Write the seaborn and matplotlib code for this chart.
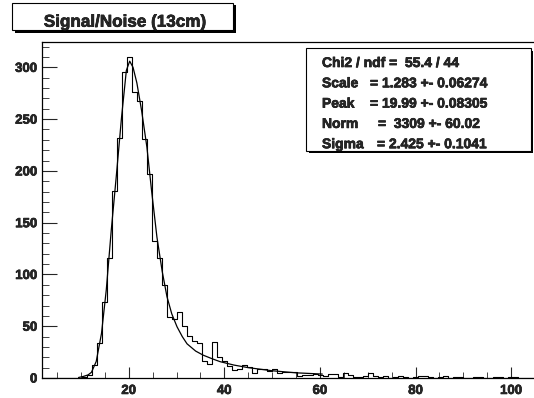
import numpy as np
import pandas as pd
import seaborn as sns
import matplotlib.pyplot as plt
import matplotlib.patheffects as pe
from matplotlib.patches import Rectangle
from matplotlib.ticker import MultipleLocator

# histogram definition (100 bins) and contents
n_bins = 100
x_lo, x_hi = 1.75, 106.75
counts = [0, 0, 0, 0, 0, 0, 0, 0, 1, 3,
          13, 34, 73, 116, 181, 232, 296, 310, 276, 268,
          231, 197, 132, 116, 90, 59, 57, 64, 50, 41,
          36, 34, 16, 14, 35, 20, 16, 12, 8, 9,
          13, 11, 5, 9, 9, 7, 9, 5, 6, 6,
          6, 2, 3, 3, 4, 3, 2, 4, 4, 1,
          5, 3, 1, 1, 2, 5, 2, 1, 2, 0,
          1, 2, 1, 0, 1, 2, 2, 1, 0, 1,
          2, 0, 1, 1, 0, 0, 1, 1, 0, 0,
          1, 1, 0, 1, 1, 0, 0, 0, 0, 0]

# fitted curve (langaus)
fit_x = [9.5, 10.5, 11.5, 12.2, 13.2, 14.3, 15.3, 16.35, 17.4, 18.5, 19.5, 20.2,
         20.9, 21.7, 22.7, 23.8, 24.8, 25.9, 27.0, 28.0, 29.0, 30.1, 31.2, 32.2,
         34.0, 35.6, 37.5, 39.1, 42.0, 45.0, 50.0, 55.0, 60.5]
fit_y = [0.5, 1.5, 3.0, 5.5, 16, 43, 85, 143, 195, 252, 297, 306,
         300, 285, 258, 223, 180, 136, 103, 78.5, 62, 49.5, 40, 33,
         26, 22, 18.5, 15.8, 12.5, 10, 7, 5, 3.8]

title = "Signal/Noise (13cm)"
stat_names = ["Scale", "Peak", "Norm", "Sigma"]
stat_vals = ["= 1.283 +- 0.06274", "= 19.99 +- 0.08305", "=  3309 +- 60.02", "= 2.425 +- 0.1041"]
chi2_line = "Chi2 / ndf =  55.4 / 44"

sns.set_style("ticks")
plt.rcParams["font.family"] = ["Liberation Sans", "DejaVu Sans"]
plt.rcParams["font.weight"] = "bold"

W, H = 534, 398
fig = plt.figure(figsize=(W / 100, H / 100), dpi=100)
heavy = [pe.withStroke(linewidth=0.45, foreground="black")]

def fx(px):
    return px / W

def fy(py):
    return 1 - py / H

# frame: left 41.5px, bottom 378px, top 42px, right edge off-image
ax = fig.add_axes([fx(41.5), fy(378), fx(543.4 - 41.5), (378 - 42) / H])

bw = (x_hi - x_lo) / n_bins
centers = x_lo + bw * (np.arange(n_bins) + 0.5)
df = pd.DataFrame({"x": centers, "n": np.asarray(counts, dtype=float)})
sns.histplot(data=df, x="x", weights="n", binwidth=bw, binrange=(x_lo, x_hi),
             element="step", fill=False, color="black", linewidth=0.8, ax=ax)
fit = pd.DataFrame({"x": fit_x, "y": fit_y})
sns.lineplot(data=fit, x="x", y="y", color="black", linewidth=0.9, ax=ax)

ax.set_xlim(x_lo, x_hi)
ax.set_ylim(0, 324.5)
ax.set_xlabel("")
ax.set_ylabel("")

ax.xaxis.set_major_locator(MultipleLocator(20))
ax.xaxis.set_minor_locator(MultipleLocator(5))
ax.yaxis.set_major_locator(MultipleLocator(50))
ax.yaxis.set_minor_locator(MultipleLocator(10))
ax.tick_params(axis="x", which="major", direction="in", length=8, width=0.8, pad=5,
               labelsize=9.5, bottom=True, top=False)
ax.tick_params(axis="x", which="minor", direction="in", length=4.5, width=0.6,
               bottom=True, top=False)
ax.tick_params(axis="y", which="major", direction="in", length=10.5, width=0.8, pad=3,
               labelsize=9.5, left=True, right=False)
ax.tick_params(axis="y", which="minor", direction="in", length=5.3, width=0.6,
               left=True, right=False)
for lab in ax.get_xticklabels() + ax.get_yticklabels():
    lab.set_fontweight("bold")
    lab.set_path_effects(heavy)
for s in ax.spines.values():
    s.set_linewidth(0.9)
    s.set_color("black")

def shadow_box(left, top, right, bottom, sh):
    fig.patches.append(Rectangle((fx(left + sh), fy(bottom + sh)), (right - left) / W,
                                 (bottom - top) / H, transform=fig.transFigure,
                                 facecolor="black", edgecolor="black", lw=0, zorder=5))
    fig.patches.append(Rectangle((fx(left), fy(bottom)), (right - left) / W,
                                 (bottom - top) / H, transform=fig.transFigure,
                                 facecolor="white", edgecolor="black", lw=0.8, zorder=6))

# title box
shadow_box(12.3, 2.7, 233, 30, 2.5)
fig.text(fx(125.5), fy(26.7), title, ha="center", va="baseline", fontsize=12.3,
         fontweight="bold", zorder=7, path_effects=heavy)

# stats box
shadow_box(306, 48.3, 530.5, 150.8, 2.6)
fig.text(fx(322), fy(67.0), chi2_line, ha="left", va="baseline", fontsize=10,
         fontweight="bold", zorder=7, path_effects=heavy)
val_x = [370, 370, 378, 377]
for i, (nm, vl) in enumerate(zip(stat_names, stat_vals)):
    by = 67.0 + 20.3 * (i + 1)
    fig.text(fx(322), fy(by), nm, ha="left", va="baseline", fontsize=10,
             fontweight="bold", zorder=7, path_effects=heavy)
    fig.text(fx(val_x[i]), fy(by), vl, ha="left", va="baseline", fontsize=10,
             fontweight="bold", zorder=7, path_effects=heavy)

fig.savefig("out.png", dpi=100)
